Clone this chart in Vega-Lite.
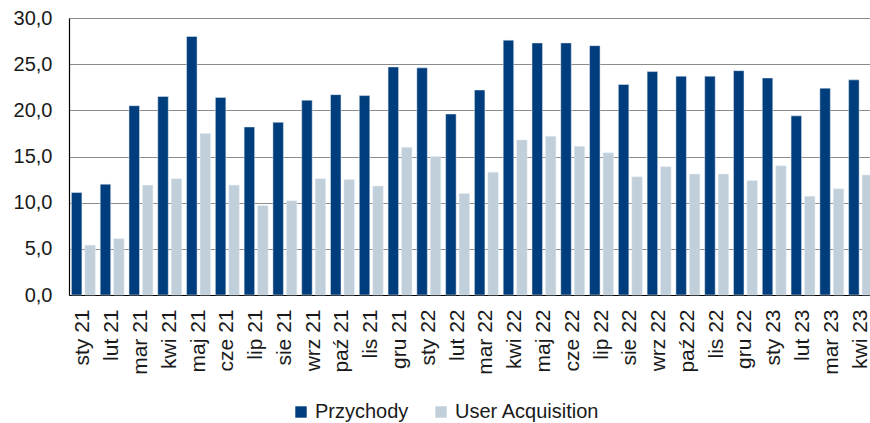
{
  "$schema": "https://vega.github.io/schema/vega-lite/v6.json",
  "autosize": "none",
  "width": 806,
  "height": 277,
  "padding": {"left": 69, "top": 18, "right": 0, "bottom": 128},
  "background": "white",
  "config": {
    "font": "Liberation Sans",
    "view": {"stroke": null},
    "axis": {"labelFont": "Liberation Sans", "labelColor": "#1a1a1a"}
  },
  "data": {
    "values": [
      {"m": "sty 21", "s": "Przychody", "v": 11.1}, {"m": "sty 21", "s": "User Acquisition", "v": 5.4},
      {"m": "lut 21", "s": "Przychody", "v": 12.0}, {"m": "lut 21", "s": "User Acquisition", "v": 6.1},
      {"m": "mar 21", "s": "Przychody", "v": 20.5}, {"m": "mar 21", "s": "User Acquisition", "v": 11.9},
      {"m": "kwi 21", "s": "Przychody", "v": 21.5}, {"m": "kwi 21", "s": "User Acquisition", "v": 12.6},
      {"m": "maj 21", "s": "Przychody", "v": 28.0}, {"m": "maj 21", "s": "User Acquisition", "v": 17.5},
      {"m": "cze 21", "s": "Przychody", "v": 21.4}, {"m": "cze 21", "s": "User Acquisition", "v": 11.9},
      {"m": "lip 21", "s": "Przychody", "v": 18.2}, {"m": "lip 21", "s": "User Acquisition", "v": 9.7},
      {"m": "sie 21", "s": "Przychody", "v": 18.7}, {"m": "sie 21", "s": "User Acquisition", "v": 10.2},
      {"m": "wrz 21", "s": "Przychody", "v": 21.1}, {"m": "wrz 21", "s": "User Acquisition", "v": 12.6},
      {"m": "paź 21", "s": "Przychody", "v": 21.7}, {"m": "paź 21", "s": "User Acquisition", "v": 12.5},
      {"m": "lis 21", "s": "Przychody", "v": 21.6}, {"m": "lis 21", "s": "User Acquisition", "v": 11.8},
      {"m": "gru 21", "s": "Przychody", "v": 24.7}, {"m": "gru 21", "s": "User Acquisition", "v": 16.0},
      {"m": "sty 22", "s": "Przychody", "v": 24.6}, {"m": "sty 22", "s": "User Acquisition", "v": 15.0},
      {"m": "lut 22", "s": "Przychody", "v": 19.6}, {"m": "lut 22", "s": "User Acquisition", "v": 11.0},
      {"m": "mar 22", "s": "Przychody", "v": 22.2}, {"m": "mar 22", "s": "User Acquisition", "v": 13.3},
      {"m": "kwi 22", "s": "Przychody", "v": 27.6}, {"m": "kwi 22", "s": "User Acquisition", "v": 16.8},
      {"m": "maj 22", "s": "Przychody", "v": 27.3}, {"m": "maj 22", "s": "User Acquisition", "v": 17.2},
      {"m": "cze 22", "s": "Przychody", "v": 27.3}, {"m": "cze 22", "s": "User Acquisition", "v": 16.1},
      {"m": "lip 22", "s": "Przychody", "v": 27.0}, {"m": "lip 22", "s": "User Acquisition", "v": 15.4},
      {"m": "sie 22", "s": "Przychody", "v": 22.8}, {"m": "sie 22", "s": "User Acquisition", "v": 12.8},
      {"m": "wrz 22", "s": "Przychody", "v": 24.2}, {"m": "wrz 22", "s": "User Acquisition", "v": 13.9},
      {"m": "paź 22", "s": "Przychody", "v": 23.7}, {"m": "paź 22", "s": "User Acquisition", "v": 13.1},
      {"m": "lis 22", "s": "Przychody", "v": 23.7}, {"m": "lis 22", "s": "User Acquisition", "v": 13.1},
      {"m": "gru 22", "s": "Przychody", "v": 24.3}, {"m": "gru 22", "s": "User Acquisition", "v": 12.4},
      {"m": "sty 23", "s": "Przychody", "v": 23.5}, {"m": "sty 23", "s": "User Acquisition", "v": 14.0},
      {"m": "lut 23", "s": "Przychody", "v": 19.4}, {"m": "lut 23", "s": "User Acquisition", "v": 10.7},
      {"m": "mar 23", "s": "Przychody", "v": 22.4}, {"m": "mar 23", "s": "User Acquisition", "v": 11.5},
      {"m": "kwi 23", "s": "Przychody", "v": 23.3}, {"m": "kwi 23", "s": "User Acquisition", "v": 13.0}
    ]
  },
  "mark": {"type": "bar", "stroke": "#e6ecf2", "strokeWidth": 0.5},
  "encoding": {
    "x": {
      "field": "m", "type": "nominal", "sort": null,
      "scale": {"paddingInner": 0, "paddingOuter": 0},
      "axis": {
        "title": null, "labelAngle": -90, "labelFontSize": 21, "labelPadding": 14,
        "ticks": false, "domainColor": "#000000", "domainWidth": 1.2, "grid": false,
        "labelBaseline": "middle", "labelAlign": "right"
      }
    },
    "xOffset": {
      "field": "s", "type": "nominal",
      "scale": {"paddingInner": 0.22, "paddingOuter": 0.18}
    },
    "y": {
      "field": "v", "type": "quantitative",
      "scale": {"domain": [0, 30], "nice": false},
      "axis": {
        "title": null, "values": [0, 5, 10, 15, 20, 25, 30],
        "labelExpr": "replace(format(datum.value, '.1f'), '.', ',')",
        "labelFontSize": 20, "labelPadding": 17, "ticks": false,
        "domainColor": "#000000", "domainWidth": 1.2,
        "grid": true, "gridColor": "#8c8c8c", "gridWidth": 1
      }
    },
    "color": {
      "field": "s", "type": "nominal",
      "scale": {"domain": ["Przychody", "User Acquisition"], "range": ["#003d7c", "#c0cfda"]},
      "legend": {
        "title": null, "orient": "none", "direction": "horizontal",
        "legendX": 222, "legendY": 384,
        "symbolType": "square", "symbolSize": 130, "symbolStrokeWidth": 0,
        "labelFontSize": 20, "labelColor": "#1a1a1a", "labelFont": "Liberation Sans",
        "columnPadding": 22, "labelOffset": 4
      }
    }
  }
}
